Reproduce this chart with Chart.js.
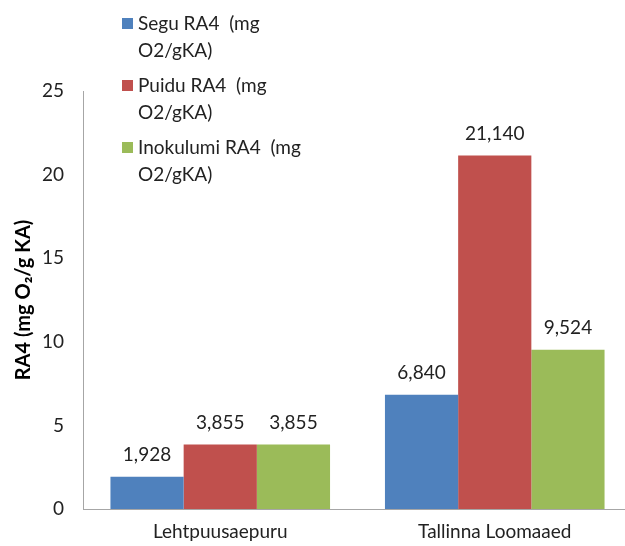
<!DOCTYPE html>
<html>
<head>
<meta charset="utf-8">
<script src="https://cdn.jsdelivr.net/npm/chart.js@4/dist/chart.umd.min.js"></script>
<style>
  html, body { margin: 0; padding: 0; background: #ffffff; }
  #wrap { width: 625px; height: 546px; overflow: hidden; position: relative; }
  #c { position: absolute; left: 0; top: 0; }
</style>
</head>
<body>
<div id="wrap"><canvas id="c" width="632" height="546"></canvas></div>
<script>
// Sites and measured RA4 values per sample type
const categories = ['Lehtpuusaepuru', 'Tallinna Loomaaed'];
const seriesNames = ['Segu RA4  (mg\nO2/gKA)', 'Puidu RA4  (mg\nO2/gKA)', 'Inokulumi RA4  (mg\nO2/gKA)'];
const seguValues = [1.928, 6.840];
const puiduValues = [3.855, 21.140];
const inokulumiValues = [3.855, 9.524];
const yTicks = [0, 5, 10, 15, 20, 25];
const yTitle = 'RA4 (mg O\u2082/g KA)';

const colors = ['#4F81BD', '#C0504D', '#9BBB59'];
const FONT = 'Lato, "Noto Sans", sans-serif';
const TEXT = '#222222';

// Value labels above each bar, decimal comma
const valueLabels = {
  id: 'valueLabels',
  afterDatasetsDraw(chart) {
    const ctx = chart.ctx;
    ctx.save();
    ctx.font = '19px ' + FONT;
    ctx.fillStyle = TEXT;
    ctx.textAlign = 'center';
    ctx.textBaseline = 'middle';
    chart.data.datasets.forEach((ds, i) => {
      chart.getDatasetMeta(i).data.forEach((bar, j) => {
        const txt = ds.data[j].toFixed(3).replace('.', ',');
        ctx.fillText(txt, bar.x, bar.y - 22);
      });
    });
    ctx.restore();
  }
};

// Legend block drawn over the upper-left of the plot
const sideLegend = {
  id: 'sideLegend',
  afterDraw(chart) {
    const ctx = chart.ctx;
    ctx.save();
    ctx.font = '19px ' + FONT;
    ctx.textBaseline = 'middle';
    ctx.textAlign = 'left';
    const x0 = 122, y0 = 24, itemGap = 62, lineGap = 27;
    chart.data.datasets.forEach((ds, i) => {
      const y = y0 + i * itemGap;
      ctx.fillStyle = ds.backgroundColor;
      ctx.fillRect(x0, y - 6, 11, 11);
      ctx.fillStyle = TEXT;
      ds.label.split('\n').forEach((line, k) => {
        ctx.fillText(line, x0 + 16, y + k * lineGap);
      });
    });
    ctx.restore();
  }
};

new Chart(document.getElementById('c'), {
  type: 'bar',
  data: {
    labels: categories,
    datasets: [
      { label: seriesNames[0], data: seguValues, backgroundColor: colors[0] },
      { label: seriesNames[1], data: puiduValues, backgroundColor: colors[1] },
      { label: seriesNames[2], data: inokulumiValues, backgroundColor: colors[2] }
    ]
  },
  options: {
    responsive: false,
    devicePixelRatio: 1,
    animation: false,
    layout: { padding: { top: 91, right: 0, bottom: 0, left: 0 } },
    plugins: {
      legend: { display: false },
      tooltip: { enabled: false }
    },
    datasets: {
      bar: { categoryPercentage: 0.8, barPercentage: 1.0 }
    },
    scales: {
      x: {
        afterFit(scale) { scale.height = 37; },
        grid: { display: false, drawTicks: false },
        border: { display: true, color: '#A6A6A6', width: 1 },
        ticks: { font: { family: FONT, size: 19 }, color: TEXT, padding: 11 }
      },
      y: {
        min: 0,
        max: 25,
        afterBuildTicks(scale) { scale.ticks = yTicks.map(v => ({ value: v })); },
        afterFit(scale) { scale.width = 83; },
        grid: { display: false, drawTicks: false },
        border: { display: true, color: '#A6A6A6', width: 1 },
        ticks: { font: { family: FONT, size: 19 }, color: TEXT, padding: 19 },
        title: {
          display: true,
          text: yTitle,
          color: '#000000',
          font: { family: FONT, size: 20, weight: 'bold' },
          padding: { top: 12, bottom: 0 }
        }
      }
    }
  },
  plugins: [valueLabels, sideLegend]
});
</script>
</body>
</html>
